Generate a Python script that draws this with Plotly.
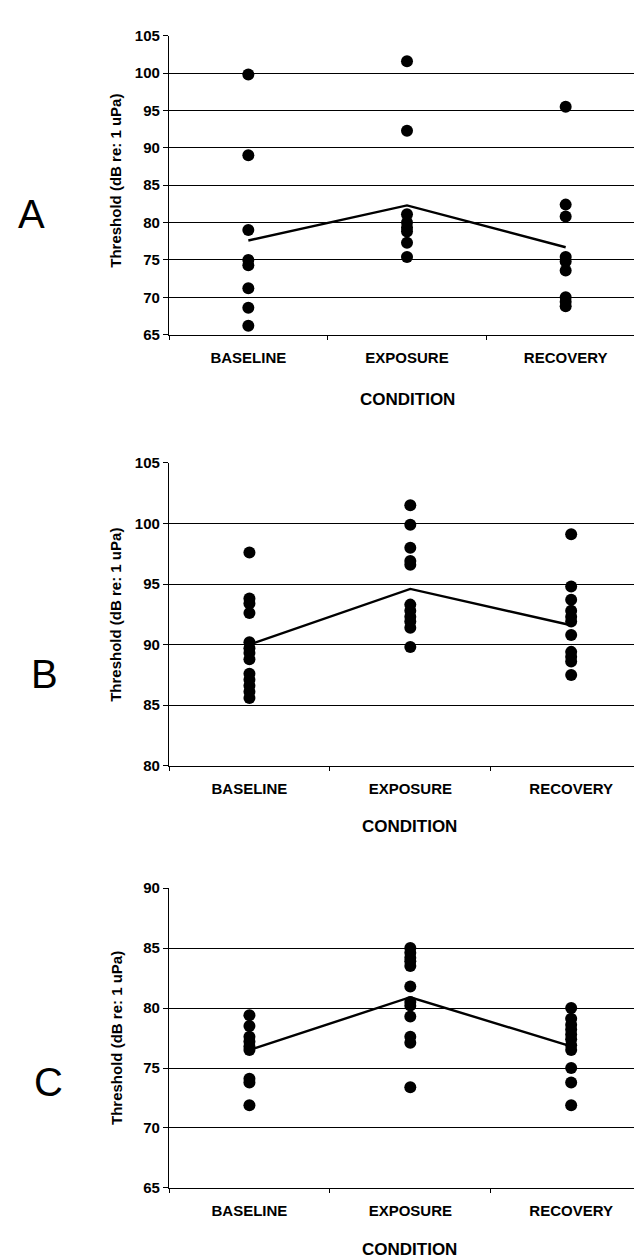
import plotly.graph_objects as go

W, H = 642, 1258
conditions = ["BASELINE", "EXPOSURE", "RECOVERY"]

# Panel A
a_baseline = [99.8, 89.0, 79.0, 75.0, 74.3, 71.2, 68.6, 66.2]
a_exposure = [101.6, 92.3, 81.1, 80.0, 79.3, 78.8, 77.3, 75.4]
a_recovery = [95.5, 82.4, 80.8, 75.4, 74.8, 73.6, 70.0, 69.4, 68.8]
a_means = [77.6, 82.3, 76.7]

# Panel B
b_baseline = [97.6, 93.8, 93.4, 92.6, 90.2, 89.7, 89.3, 88.8, 87.6, 87.1, 86.6, 86.1, 85.6]
b_exposure = [101.5, 99.9, 98.0, 96.9, 96.6, 93.3, 92.8, 92.3, 91.9, 91.4, 89.8]
b_recovery = [99.1, 94.8, 93.7, 92.8, 92.3, 91.9, 90.8, 89.4, 89.0, 88.6, 87.5]
b_means = [90.0, 94.6, 91.6]

# Panel C
c_baseline = [79.4, 78.5, 77.6, 77.2, 76.8, 76.5, 74.1, 73.8, 71.9]
c_exposure = [85.0, 84.6, 84.2, 83.9, 83.5, 81.8, 80.5, 80.2, 79.3, 77.6, 77.1, 73.4]
c_recovery = [80.0, 79.1, 78.6, 78.2, 77.8, 77.4, 76.9, 76.5, 75.0, 73.8, 71.9]
c_means = [76.5, 80.9, 76.8]

panel_letters = ["A", "B", "C"]
y_ranges = [(65, 105), (80, 105), (65, 90)]
y_title = "Threshold (dB re: 1 uPa)"
x_title = "CONDITION"

panels = [
    (a_baseline, a_exposure, a_recovery, a_means),
    (b_baseline, b_exposure, b_recovery, b_means),
    (c_baseline, c_exposure, c_recovery, c_means),
]

# layout geometry in pixels (left, right, top, bottom)
boxes = [(161, 637, 19, 322), (161, 642, 452, 759), (161, 642, 883, 1187)]
x_right_ext = [2.5, 2.49, 2.49]
letter_pos = [(24, 200), (36, 666), (40, 1080)]
xtitle_y = [388, 821, 1249]
ytitle_y = [166, 606, 1035]

FONT = "Arial, Liberation Sans, sans-serif"

fig = go.Figure()
annotations = []
for i, (bl, ex, rc, mn) in enumerate(panels):
    n = i + 1
    xa = "x" if n == 1 else f"x{n}"
    ya = "y" if n == 1 else f"y{n}"
    xs = [conditions[0]] * len(bl) + [conditions[1]] * len(ex) + [conditions[2]] * len(rc)
    ys = bl + ex + rc
    fig.add_trace(go.Scatter(x=xs, y=ys, mode="markers", xaxis=xa, yaxis=ya,
                             marker=dict(size=12, color="black"), showlegend=False))
    fig.add_trace(go.Scatter(x=conditions, y=mn, mode="lines", xaxis=xa, yaxis=ya,
                             line=dict(color="black", width=2.4), showlegend=False))
    l, r, t, b = boxes[i]
    xkey = "xaxis" if n == 1 else f"xaxis{n}"
    ykey = "yaxis" if n == 1 else f"yaxis{n}"
    fig.update_layout(**{
        xkey: dict(domain=[l / W, r / W], anchor=ya, type="category",
                   categoryorder="array", categoryarray=conditions,
                   range=[-0.5, x_right_ext[i]], tickson="boundaries",
                   ticks="outside", ticklen=4, tickcolor="black", tickwidth=1,
                   showline=True, linecolor="black", linewidth=1.3,
                   showgrid=False, zeroline=False,
                   tickfont=dict(family=FONT, size=15, color="black", weight="bold"),
                   ticklabelstandoff=9),
        ykey: dict(domain=[1 - b / H, 1 - t / H], anchor=xa,
                   range=list(y_ranges[i]), dtick=5,
                   ticks="outside", ticklen=5, tickcolor="black", tickwidth=1,
                   showline=True, linecolor="black", linewidth=1.3,
                   showgrid=True, gridcolor="black", gridwidth=1.4,
                   zeroline=False,
                   tickfont=dict(family=FONT, size=15, color="black", weight="bold")),
    })
    annotations.append(dict(text=panel_letters[i], x=letter_pos[i][0] / W, y=1 - letter_pos[i][1] / H,
                            xref="paper", yref="paper", showarrow=False,
                            xanchor="center", yanchor="middle",
                            font=dict(family=FONT, size=40, color="black")))
    annotations.append(dict(text=x_title, x=(l + r) / 2 / W, y=1 - xtitle_y[i] / H,
                            xref="paper", yref="paper", showarrow=False,
                            xanchor="center", yanchor="middle",
                            font=dict(family=FONT, size=17, color="black", weight="bold")))
    annotations.append(dict(text=y_title, x=108 / W, y=1 - ytitle_y[i] / H,
                            xref="paper", yref="paper", showarrow=False, textangle=-90,
                            xanchor="center", yanchor="middle",
                            font=dict(family=FONT, size=15, color="black", weight="bold")))

fig.update_layout(width=W, height=H, margin=dict(l=0, r=0, t=0, b=0),
                  paper_bgcolor="white", plot_bgcolor="white",
                  showlegend=False, annotations=annotations)

fig.write_html("out.html")
